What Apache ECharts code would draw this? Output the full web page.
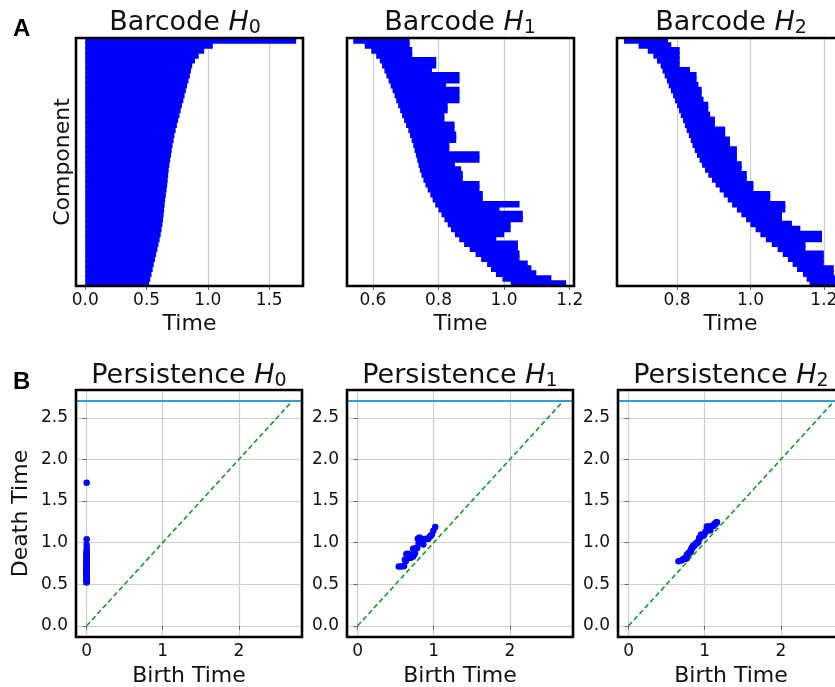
<!DOCTYPE html>
<html>
<head>
<meta charset="utf-8">
<script src="https://cdn.jsdelivr.net/npm/echarts@6/dist/echarts.min.js"></script>
<style>
  html, body { margin: 0; padding: 0; background: #ffffff; }
  #chart { width: 835px; height: 687px; }
</style>
</head>
<body>
<div id="chart"></div>
<script>
// Death times of the H0 components (all born at time 0), longest first
const h0Deaths = [1.72, 1.04, 0.97, 0.925, 0.895, 0.872, 0.862, 0.853, 0.842, 0.83,
  0.82, 0.81, 0.8, 0.788, 0.778, 0.768, 0.757, 0.747, 0.737, 0.727,
  0.72, 0.712, 0.705, 0.699, 0.692, 0.686, 0.68, 0.676, 0.672, 0.668,
  0.663, 0.657, 0.651, 0.647, 0.643, 0.639, 0.634, 0.629, 0.622, 0.615,
  0.606, 0.597, 0.588, 0.578, 0.568, 0.558, 0.55, 0.54, 0.53, 0.52];

// H1 intervals, ordered by birth time
const h1Births = [0.54, 0.575, 0.595, 0.61, 0.621, 0.628, 0.635, 0.641, 0.648, 0.654,
  0.66, 0.666, 0.671, 0.677, 0.683, 0.689, 0.695, 0.701, 0.708, 0.713,
  0.718, 0.723, 0.727, 0.731, 0.735, 0.739, 0.743, 0.748, 0.754, 0.76,
  0.767, 0.775, 0.782, 0.79, 0.8, 0.809, 0.818, 0.828, 0.838, 0.85,
  0.863, 0.878, 0.895, 0.913, 0.93, 0.948, 0.96, 0.975, 0.995, 1.02];
const h1Deaths = [0.712, 0.712, 0.72, 0.72, 0.793, 0.793, 0.78, 0.864, 0.864, 0.823,
  0.864, 0.864, 0.864, 0.828, 0.828, 0.818, 0.818, 0.849, 0.849, 0.854,
  0.854, 0.833, 0.833, 0.925, 0.925, 0.85, 0.869, 0.874, 0.874, 0.925,
  0.925, 0.935, 0.935, 1.047, 0.986, 1.057, 1.057, 1.02, 1.02, 1.0,
  0.976, 1.042, 1.042, 1.047, 1.047, 1.072, 1.083, 1.098, 1.144, 1.189];

// H2 intervals, ordered by birth time
const h2Births = [0.655, 0.695, 0.72, 0.735, 0.745, 0.755, 0.76, 0.766, 0.772, 0.777,
  0.783, 0.789, 0.794, 0.8, 0.805, 0.81, 0.816, 0.821, 0.826, 0.832,
  0.837, 0.842, 0.848, 0.854, 0.861, 0.868, 0.876, 0.885, 0.895, 0.905,
  0.916, 0.927, 0.938, 0.95, 0.963, 0.975, 0.988, 1.0, 1.014, 1.027,
  1.042, 1.058, 1.074, 1.088, 1.102, 1.115, 1.127, 1.143, 1.153, 1.161];
const h2Deaths = [0.775, 0.784, 0.807, 0.807, 0.807, 0.807, 0.835, 0.853, 0.853, 0.858,
  0.867, 0.867, 0.872, 0.885, 0.885, 0.89, 0.903, 0.903, 0.931, 0.931,
  0.944, 0.944, 0.963, 0.963, 0.963, 0.976, 0.976, 0.99, 0.99, 1.008,
  1.008, 1.054, 1.054, 1.095, 1.095, 1.086, 1.086, 1.113, 1.136, 1.195,
  1.195, 1.15, 1.15, 1.2, 1.2, 1.2, 1.227, 1.227, 1.246, 1.246];

// Level used to mark "infinite" death time in the diagrams
const infinityLevel = 2.7;

// Tick labels
const h0TimeTicks = [0, 0.5, 1.0, 1.5];
const h1TimeTicks = [0.6, 0.8, 1.0, 1.2];
const h2TimeTicks = [0.8, 1.0, 1.2];
const birthTicks = [0, 1, 2];
const deathTicks = [0, 0.5, 1.0, 1.5, 2.0, 2.5];

const homologyDims = ['0', '1', '2'];

const FONT = 'DejaVu Sans';
const BLUE = '#0000ff';
const GRID_COLOR = '#cdcdcd';

const chart = echarts.init(document.getElementById('chart'), null, { renderer: 'canvas' });

const panelGrids = [
  { left: 76, top: 38, width: 227, height: 248 },
  { left: 347, top: 38, width: 227, height: 248 },
  { left: 617, top: 38, width: 227, height: 248 },
  { left: 76, top: 390, width: 226, height: 247 },
  { left: 347, top: 390, width: 226, height: 247 },
  { left: 618, top: 390, width: 226, height: 247 }
].map(g => Object.assign({
  show: true, borderColor: '#000', borderWidth: 2.6, backgroundColor: 'transparent', z: 10,
  containLabel: false, outerBoundsMode: 'none'
}, g));

const tickStyle = (values) => ({
  show: true, inside: false, length: 4, customValues: values,
  lineStyle: { color: '#666', width: 1 }
});
const labelStyle = (values, fmt, margin) => ({
  customValues: values, formatter: fmt, margin: margin,
  fontFamily: FONT, fontSize: 17, color: '#111'
});
const nameStyle = { fontFamily: FONT, fontSize: 22, color: '#111' };

function timeAxis(gridIndex, min, max, ticks) {
  return {
    type: 'value', gridIndex, min, max,
    axisLine: { show: false },
    axisTick: tickStyle(ticks),
    axisLabel: labelStyle(ticks, v => v.toFixed(1), 6),
    splitLine: { show: true, lineStyle: { color: GRID_COLOR, width: 1.2 } },
    name: 'Time', nameLocation: 'middle', nameGap: 27, nameTextStyle: nameStyle
  };
}
function componentAxis(gridIndex, count, withName) {
  const cats = [];
  for (let i = 0; i < count; i++) cats.push(i);
  return {
    type: 'category', gridIndex, data: cats, inverse: true,
    axisLine: { show: false }, axisTick: { show: false }, axisLabel: { show: false },
    splitLine: { show: false },
    name: withName ? 'Component' : '', nameLocation: 'middle', nameGap: 2,
    nameTextStyle: nameStyle
  };
}
function birthAxis(gridIndex) {
  return {
    type: 'value', gridIndex, min: -0.14, max: 2.83,
    axisLine: { show: false },
    axisTick: tickStyle(birthTicks),
    axisLabel: labelStyle(birthTicks, v => String(Math.round(v)), 6),
    splitLine: { show: true, lineStyle: { color: GRID_COLOR, width: 1.2 } },
    name: 'Birth Time', nameLocation: 'middle', nameGap: 28, nameTextStyle: nameStyle
  };
}
function deathAxis(gridIndex, withName) {
  return {
    type: 'value', gridIndex, min: -0.135, max: 2.835,
    axisLine: { show: false },
    axisTick: tickStyle(deathTicks),
    axisLabel: labelStyle(deathTicks, v => v.toFixed(1), 8),
    splitLine: { show: true, lineStyle: { color: GRID_COLOR, width: 1.2 } },
    name: withName ? 'Death Time' : '', nameLocation: 'middle', nameGap: 44,
    nameTextStyle: nameStyle
  };
}

function barcodeSeries(axisIndex, births, deaths) {
  const data = deaths.map((d, i) => [i, births[i], d]);
  return {
    type: 'custom', xAxisIndex: axisIndex, yAxisIndex: axisIndex, clip: true,
    encode: { x: [1, 2], y: 0 },
    data,
    renderItem(params, api) {
      const row = api.value(0);
      const start = api.coord([api.value(1), row]);
      const end = api.coord([api.value(2), row]);
      const h = api.size([0, 1])[1];
      return {
        type: 'rect',
        shape: { x: start[0], y: start[1] - h / 2 - 0.8, width: end[0] - start[0], height: h + 1.6 },
        style: { fill: BLUE, stroke: null }
      };
    }
  };
}
function diagramSeries(axisIndex, births, deaths) {
  return [
    {
      type: 'line', xAxisIndex: axisIndex, yAxisIndex: axisIndex,
      data: [[0, 0], [infinityLevel, infinityLevel]],
      symbol: 'none', silent: true, z: 1,
      lineStyle: { color: '#109a2a', width: 1.6, type: [5, 3] },
      markLine: {
        silent: true, symbol: 'none', label: { show: false },
        lineStyle: { color: '#2b9fd4', width: 2.2, type: 'solid' },
        data: [{ yAxis: infinityLevel }]
      }
    },
    {
      type: 'scatter', xAxisIndex: axisIndex, yAxisIndex: axisIndex,
      data: deaths.map((d, i) => [births[i], d]),
      symbol: 'circle', symbolSize: 6.5, z: 3,
      itemStyle: { color: BLUE, opacity: 1 }
    }
  ];
}

const h0Births = h0Deaths.map(() => 0);

const titleRich = {
  n: { fontFamily: FONT, fontSize: 27, fontWeight: 'normal', color: '#111' },
  h: { fontFamily: FONT, fontSize: 27, fontWeight: 'normal', fontStyle: 'italic', color: '#111' },
  s: { fontFamily: FONT, fontSize: 19, fontWeight: 'normal', color: '#111', padding: [12, 0, 0, 0] }
};
function panelTitle(word, sub, centerX, top) {
  return {
    text: '{n|' + word + ' }{h|H}{s|' + sub + '}',
    left: centerX, top: top, padding: 0,
    textAlign: 'center', textVerticalAlign: 'top',
    textStyle: { fontWeight: 'normal', fontFamily: FONT, rich: titleRich }
  };
}
function letterTitle(letter, left, top) {
  return {
    text: letter, left, top, padding: 0,
    textAlign: 'left', textVerticalAlign: 'top',
    textStyle: { fontFamily: 'Liberation Sans', fontWeight: 'bold', fontSize: 24, color: '#000' }
  };
}

const option = {
  animation: false,
  backgroundColor: '#ffffff',
  textStyle: { fontFamily: FONT },
  title: [
    letterTitle('A', 13, 17),
    letterTitle('B', 13, 370),
    panelTitle('Barcode', homologyDims[0], 185, 7),
    panelTitle('Barcode', homologyDims[1], 460, 7),
    panelTitle('Barcode', homologyDims[2], 731, 7),
    panelTitle('Persistence', homologyDims[0], 189, 360),
    panelTitle('Persistence', homologyDims[1], 460, 360),
    panelTitle('Persistence', homologyDims[2], 731, 360)
  ],
  grid: panelGrids,
  xAxis: [
    timeAxis(0, -0.076, 1.776, h0TimeTicks),
    timeAxis(1, 0.521, 1.213, h1TimeTicks),
    timeAxis(2, 0.636, 1.255, h2TimeTicks),
    birthAxis(3), birthAxis(4), birthAxis(5)
  ],
  yAxis: [
    componentAxis(0, h0Deaths.length, true),
    componentAxis(1, h1Deaths.length, false),
    componentAxis(2, h2Deaths.length, false),
    deathAxis(3, true), deathAxis(4, false), deathAxis(5, false)
  ],
  series: [
    barcodeSeries(0, h0Births, h0Deaths),
    barcodeSeries(1, h1Births, h1Deaths),
    barcodeSeries(2, h2Births, h2Deaths),
    ...diagramSeries(3, h0Births, h0Deaths),
    ...diagramSeries(4, h1Births, h1Deaths),
    ...diagramSeries(5, h2Births, h2Deaths)
  ]
};

chart.setOption(option);
</script>
</body>
</html>
